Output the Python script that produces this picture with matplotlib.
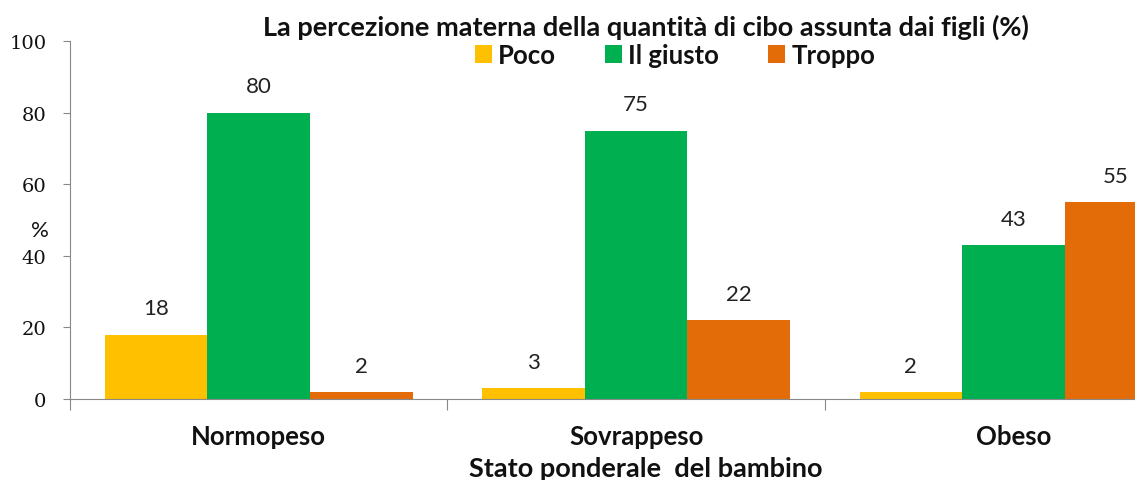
import matplotlib
matplotlib.use("Agg")
import matplotlib.pyplot as plt
import numpy as np

categories = ["Normopeso", "Sovrappeso", "Obeso"]
series_names = ["Poco", "Il giusto", "Troppo"]
poco = [18, 3, 2]
giusto = [80, 75, 43]
troppo = [2, 22, 55]
colors = ["#FFC000", "#00B050", "#E36C09"]
yticks = [0, 20, 40, 60, 80, 100]

plt.rcParams['font.family'] = ['Lato', 'DejaVu Sans']

fig = plt.figure(figsize=(11.35, 4.81), dpi=100)
ax = fig.add_axes([70/1135, 81/481, 1 - 70/1135, (400-42)/481])

x = np.arange(len(categories))
w = 0.272
handles = []
for i, (vals, name, c) in enumerate(zip([poco, giusto, troppo], series_names, colors)):
    bars = ax.bar(x + (i - 1) * w, vals, width=w, color=c, label=name)
    handles.append(bars)
    for xi, v in zip(x + (i - 1) * w, vals):
        ax.annotate(str(v), (xi, v), xytext=(0, 14.5), textcoords="offset points",
                    ha="center", va="baseline", fontsize=16, color="#222222")

ax.set_xlim(-0.5, 2.322)
ax.set_ylim(0, 100)
ax.set_yticks(yticks)
ax.set_yticklabels([str(t) for t in yticks])
for lbl in ax.get_yticklabels():
    lbl.set_fontfamily("DejaVu Serif")
    lbl.set_fontsize(14)
    lbl.set_color("#111111")
ax.set_xticks([-0.5, 0.5, 1.5])
ax.set_xticklabels([])
ax.tick_params(axis='x', length=8, color="#888888", direction='out')
ax.tick_params(axis='y', length=5, color="#888888", direction='out', pad=12)
for s in ["top", "right"]:
    ax.spines[s].set_visible(False)
for s in ["left", "bottom"]:
    ax.spines[s].set_color("#888888")

for xi, cat in zip(x, categories):
    ax.text(xi, 1 - 437/481, cat, transform=matplotlib.transforms.blended_transform_factory(ax.transData, fig.transFigure),
            ha="center", va="center", fontsize=18.5, fontweight="bold", color="#111111")

fig.text(646/1135, 1 - 27/481, "La percezione materna della quantità di cibo assunta dai figli (%)",
         ha="center", va="center", fontsize=19.5, fontweight="bold", color="#111111")
fig.text(40/1135, 1 - 231/481, "%", ha="center", va="center", fontsize=16, color="#111111")
fig.text(646/1135, 1 - 469/481, "Stato ponderale  del bambino", ha="center", va="center",
         fontsize=19.5, fontweight="bold", color="#111111")

leg = fig.legend(handles=handles, labels=series_names, ncol=3, loc="center",
                 bbox_to_anchor=(675/1135, 1 - 56/481), frameon=False,
                 prop={'size': 18.5, 'weight': 'bold'}, handlelength=0.66, handleheight=0.66,
                 handletextpad=0.25, columnspacing=1.9, borderpad=0)
for t in leg.get_texts():
    t.set_color("#111111")

fig.savefig("out.png", dpi=100)
